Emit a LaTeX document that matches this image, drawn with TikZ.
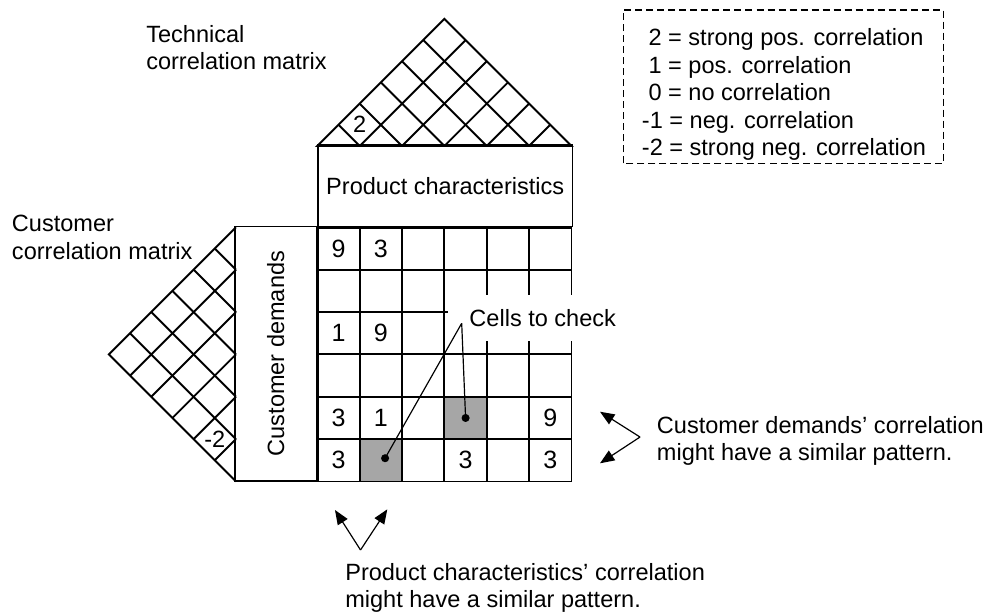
\documentclass[tikz,border=0pt]{standalone}
\usepackage{fontspec}
\setmainfont{Liberation Sans}
\usetikzlibrary{arrows.meta}

\begin{document}
\begin{tikzpicture}[
    every node/.style={font=\fontsize{15.8pt}{18.5pt}\selectfont, inner sep=0pt},
    lbl/.style={align=left, anchor=north west},
    box/.style={draw, line width=1.1pt},
    net/.style={line width=1.3pt},
    cellnum/.style={font=\fontsize{16.8pt}{18.5pt}\selectfont},
    checked/.style={fill=gray!70},
    dot/.style={circle, fill, minimum size=0.19cm},
    leader/.style={line width=0.8pt},
    arrow/.style={-{Triangle[length=0.34cm, width=0.27cm]}, line width=0.8pt}
]
\useasboundingbox (-7.489,-9.150) rectangle (15.830,5.365);

% Roof
\draw[net] (0,1.92) -- (3,4.92) -- (6,1.92) -- cycle;
\foreach \i in {1,...,5} {
  \draw[net] (\i,1.92) -- ++({-\i/2},{\i/2});
  \draw[net] (\i,1.92) -- ++({(6-\i)/2},{(6-\i)/2});
}
\node (tc) at (1,2.42) {2};

% Left triangle
\draw[net] (-1.92,0) -- (-4.92,-3) -- (-1.92,-6);
\foreach \j in {1,...,5} {
  \draw[net] (-1.92,-\j) -- ++({-\j/2},{\j/2});
  \draw[net] (-1.92,-\j) -- ++({-(6-\j)/2},{-(6-\j)/2});
}
\node (cc) at (-2.42,-5) {-2};

% Boxes
\node[box, minimum width=6cm, minimum height=1.92cm, anchor=south west] (prod) at (0,0) {Product characteristics};
\node[box, minimum width=6cm, minimum height=1.92cm, rotate=90, anchor=south west] (cust) at (0,-6) {Customer demands};

% Matrix
\fill[checked] (1,-5) rectangle (2,-6);
\fill[checked] (3,-4) rectangle (4,-5);
\draw[net] (0,0) grid (6,-6);
\draw[line width=2pt] (0,-6) -- (0,0) -- (6,0);
\foreach \c/\r/\v in {1/1/9, 2/1/3, 1/3/1, 2/3/9, 1/5/3, 2/5/1, 6/5/9, 1/6/3, 4/6/3, 6/6/3}
  \node[cellnum] (v\c\r) at (\c-0.5,0.5-\r) {\v};

% Cells to check
\node[fill=white, inner xsep=0.5cm, inner ysep=0.34cm, anchor=base west] (chk) at (3.085,-2.346) {Cells to check};
\coordinate (chkpt) at (3.408,-2.266);
\node[dot] (d1) at (1.6,-5.45) {};
\node[dot] (d2) at (3.5,-4.5) {};
\draw[leader] (chkpt) -- (d1.center);
\draw[leader] (chkpt) -- (d2.center);

% Labels
\node[lbl] (tcm) at (-4.043,4.775) {Technical\\correlation matrix};
\node[lbl] (ccm) at (-7.213,0.290) {Customer\\correlation matrix};

% Legend
\draw[line width=0.8pt, dash pattern=on 4.7pt off 2.7pt] (7.222,1.511) rectangle (14.775,5.129);
\node[lbl] (legend) at (7.656,4.697) {\hspace*{0.28em}2 = strong pos. correlation\\
  \hspace*{0.28em}1 = pos. correlation\\
  \hspace*{0.28em}0 = no correlation\\
  -1 = neg. correlation\\
  -2 = strong neg. correlation};

% Similar patterns
\coordinate (cdv) at (7.617,-4.95);
\coordinate (cdu) at (6.672,-4.352);
\coordinate (cdd) at (6.672,-5.570);
\draw[arrow] (cdv) -- (cdu);
\draw[arrow] (cdv) -- (cdd);
\node[lbl] (cdtxt) at (8.010,-4.454) {Customer demands’ correlation\\might have a similar pattern.};

\coordinate (pcv) at (1.020,-7.616);
\coordinate (pcl) at (0.417,-6.672);
\coordinate (pcr) at (1.652,-6.656);
\draw[arrow] (pcv) -- (pcl);
\draw[arrow] (pcv) -- (pcr);
\node[lbl] (pctxt) at (0.654,-7.915) {Product characteristics’ correlation\\might have a similar pattern.};
\end{tikzpicture}
\end{document}
